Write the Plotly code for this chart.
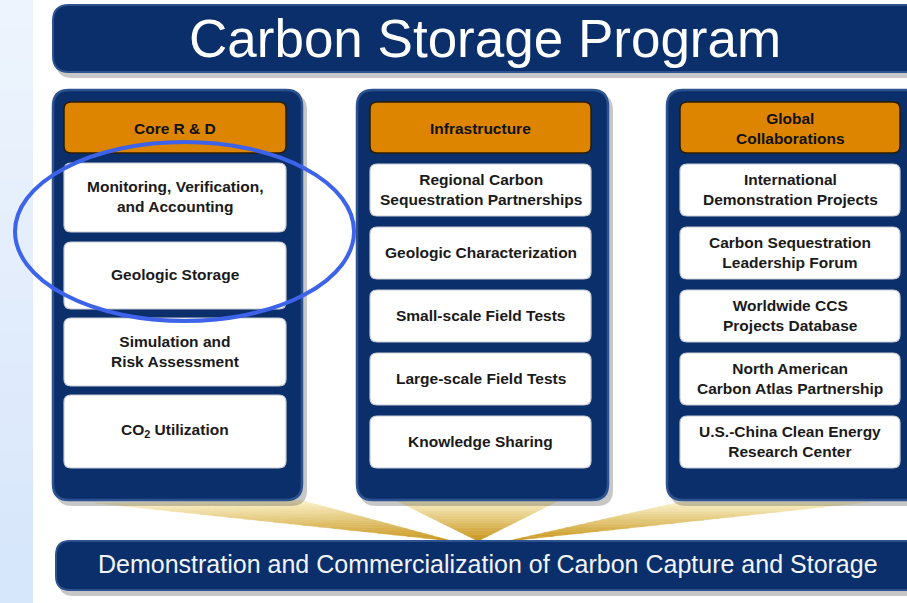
import plotly.graph_objects as go

# ---------------- data (text content) ----------------
title_text = "Carbon Storage Program"
footer_text = "Demonstration and Commercialization of Carbon Capture and Storage"
column_headers = ["Core R &amp; D", "Infrastructure", "Global<br>Collaborations"]
core_items = ["Monitoring, Verification,<br>and Accounting", "Geologic Storage",
              "Simulation and<br>Risk Assessment", "CO<sub>2</sub> Utilization"]
infra_items = ["Regional Carbon<br>Sequestration Partnerships", "Geologic Characterization",
               "Small-scale Field Tests", "Large-scale Field Tests", "Knowledge Sharing"]
global_items = ["International<br>Demonstration Projects", "Carbon Sequestration<br>Leadership Forum",
                "Worldwide CCS<br>Projects Database", "North American<br>Carbon Atlas Partnership",
                "U.S.-China Clean Energy<br>Research Center"]

# ---------------- layout constants ----------------
W, H = 907, 603
NAVY = "#0a2f6b"
NAVY_EDGE = "#2c5290"
ORANGE = "#dd8500"
FONT = "Liberation Sans"

shapes = []
annotations = []


def rr(x0, y0, x1, y1, r):
    return (f"M {x0+r},{y0} L {x1-r},{y0} Q {x1},{y0} {x1},{y0+r} "
            f"L {x1},{y1-r} Q {x1},{y1} {x1-r},{y1} L {x0+r},{y1} "
            f"Q {x0},{y1} {x0},{y1-r} L {x0},{y0+r} Q {x0},{y0} {x0+r},{y0} Z")


def add_rr(x0, y0, x1, y1, r, fill, line=None, lw=0, shadow=False):
    if shadow:
        shapes.append(dict(type="path", path=rr(x0 + 3, y0 + 4, x1 + 5, y1 + 6, r),
                           fillcolor="rgba(0,0,0,0.22)", line=dict(width=0), layer="below"))
    shapes.append(dict(type="path", path=rr(x0, y0, x1, y1, r), fillcolor=fill,
                       line=dict(color=line or fill, width=lw), layer="below"))


def hex2rgb(h):
    h = h.lstrip("#")
    return tuple(int(h[i:i + 2], 16) for i in (0, 2, 4))


def mix(c1, c2, t):
    a, b = hex2rgb(c1), hex2rgb(c2)
    return "rgb({},{},{})".format(*[round(a[i] + (b[i] - a[i]) * t) for i in range(3)])


# left light-blue strip
N = 20
for k in range(N):
    shapes.append(dict(type="rect", x0=0, x1=33, y0=H * k / N, y1=H * (k + 1) / N + 1,
                       fillcolor=mix("#eef4fd", "#d6e6fb", k / (N - 1)), line=dict(width=0), layer="below"))

# gold beams (base edge -> tip)
beams = [((95, 503), (300, 500), (452, 541)),
         ((395, 500), (560, 500), (478, 541)),
         ((680, 502), (870, 502), (508, 541))]
NB = 24
for a, b, t in beams:
    for k in range(NB):
        s0, s1 = k / NB, (k + 1) / NB
        p = lambda P, s: (P[0] + (t[0] - P[0]) * s, P[1] + (t[1] - P[1]) * s)
        pa0, pb0, pa1, pb1 = p(a, s0), p(b, s0), p(a, s1), p(b, s1)
        path = f"M {pa0[0]},{pa0[1]} L {pb0[0]},{pb0[1]} L {pb1[0]},{pb1[1]} L {pa1[0]},{pa1[1]} Z"
        shapes.append(dict(type="path", path=path, fillcolor=mix("#fbf3cc", "#c9961c", k / (NB - 1)),
                           line=dict(width=0.5, color=mix("#fbf3cc", "#c9961c", k / (NB - 1))), layer="below"))

# title banner
add_rr(53, 5, 930, 72, 16, NAVY, NAVY_EDGE, 2, shadow=True)
annotations.append(dict(x=485, y=38, text=title_text, showarrow=False,
                        font=dict(family=FONT, size=53, color="white")))

# footer banner
add_rr(56, 541, 930, 590, 14, NAVY, NAVY_EDGE, 2, shadow=True)
annotations.append(dict(x=488, y=564, text=footer_text, showarrow=False,
                        font=dict(family=FONT, size=25, color="#f2f4f8")))

# columns
col_panels = [(53, 302), (357, 608), (667, 930)]
col_inner = [(64, 286), (370, 591), (680, 900)]
col_items = [core_items, infra_items, global_items]
core_boxes = [(163, 232), (242, 309), (318, 386), (395, 468)]
five_boxes = [(164, 216), (227, 279), (290, 342), (353, 405), (416, 468)]

for ci, ((px0, px1), (ix0, ix1), items, header) in enumerate(zip(col_panels, col_inner, col_items, column_headers)):
    add_rr(px0, 90, px1, 500, 16, NAVY, NAVY_EDGE, 2.5, shadow=True)
    # header
    shapes.append(dict(type="path", path=rr(ix0, 102, ix1, 153, 7), fillcolor=ORANGE,
                       line=dict(color="#2b1d00", width=1.5), layer="below"))
    annotations.append(dict(x=(ix0 + ix1) / 2, y=128, text=f"<b>{header}</b>", showarrow=False,
                            font=dict(family=FONT, size=15.5, color="#111111")))
    boxes = core_boxes if ci == 0 else five_boxes
    for (by0, by1), txt in zip(boxes, items):
        shapes.append(dict(type="path", path=rr(ix0, by0, ix1, by1, 7), fillcolor="white",
                           line=dict(color="#c9ccd3", width=1.2), layer="below"))
        annotations.append(dict(x=(ix0 + ix1) / 2, y=(by0 + by1) / 2 - 1, text=f"<b>{txt}</b>",
                                showarrow=False, font=dict(family=FONT, size=15.5, color="#1a1a1a")))

# highlight ellipse
shapes.append(dict(type="circle", x0=15, x1=354, y0=142, y1=321,
                   line=dict(color="#3d63ea", width=4), fillcolor="rgba(0,0,0,0)", layer="above"))

fig = go.Figure()
fig.update_layout(width=W, height=H, margin=dict(l=0, r=0, t=0, b=0),
                  paper_bgcolor="white", plot_bgcolor="white",
                  xaxis=dict(range=[0, W], visible=False, fixedrange=True),
                  yaxis=dict(range=[H, 0], visible=False, fixedrange=True),
                  shapes=shapes, annotations=annotations, showlegend=False)
fig.write_html("out.html", config={"displayModeBar": False},
               post_script="document.body.style.margin='0';document.body.style.overflow='hidden';")
